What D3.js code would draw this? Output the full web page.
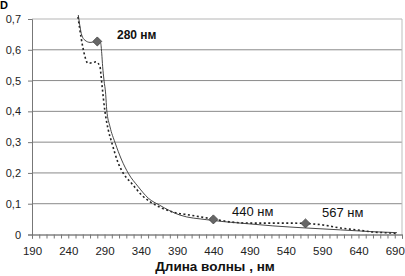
<!DOCTYPE html>
<html>
<head>
<meta charset="utf-8">
<script src="https://cdn.jsdelivr.net/npm/d3@7"></script>
<style>
  body { margin: 0; background: #fff; }
  svg { font-family: "Liberation Sans", Arial, sans-serif; }
</style>
</head>
<body>
<div id="chart"></div>
<script>
const width = 405
const height = 276

// Solid curve (nm, absorbance)
const solidNm  = [253.8, 256.2, 258.5, 263, 270, 276.8, 281.4, 284.7, 286.1, 287.4, 289.2, 291.6, 293, 297.5, 304.4, 313.6, 322.7, 336.5, 350.3, 366, 394, 431, 477, 522, 569, 615, 660, 693]
const solidAbs = [0.713, 0.675, 0.648, 0.631, 0.624, 0.626, 0.628, 0.621, 0.589, 0.545, 0.502, 0.455, 0.405, 0.35, 0.299, 0.242, 0.199, 0.155, 0.118, 0.095, 0.063, 0.048, 0.037, 0.028, 0.021, 0.015, 0.009, 0.006]

// Dotted curve (nm, absorbance)
const dottedNm  = [253.4, 257.5, 259.9, 263.1, 265.4, 267.6, 274.5, 278.2, 283.7, 285.1, 286.5, 290.6, 295.2, 299.9, 309, 315.8, 327.4, 341.2, 353, 366, 384, 408, 440, 463, 490, 522, 546, 566, 591, 615, 638, 660, 683, 693]
const dottedAbs = [0.707, 0.642, 0.61, 0.577, 0.561, 0.556, 0.559, 0.561, 0.545, 0.518, 0.485, 0.399, 0.339, 0.299, 0.231, 0.199, 0.166, 0.128, 0.106, 0.089, 0.073, 0.063, 0.05, 0.041, 0.037, 0.037, 0.037, 0.036, 0.031, 0.021, 0.015, 0.008, 0.005, 0.003]

// Marked peaks
const markerNm  = [280, 440, 567]
const markerAbs = [0.627, 0.049, 0.036]
const markerLabels = ["280 нм", "440 нм", "567 нм"]

const yTicks = [0, 0.1, 0.2, 0.3, 0.4, 0.5, 0.6, 0.7]
const xMinorTicks = d3.range(190, 701, 10)
const xLabelTicks = [190, 240, 290, 340, 390, 440, 490, 540, 590, 640, 690]

const svg = d3.select("#chart")
              .append("svg")
                .attr("width", width)
                .attr("height", height)

const xScale = d3.scaleLinear()
                 .domain([190, 700])
                 .range([32, 402])

const yScale = d3.scaleLinear()
                 .domain([0, 0.7])
                 .range([234.5, 19])

// Gridlines
svg.append("g")
   .selectAll("line")
   .data(yTicks.filter(d => d > 0))
   .join("line")
     .attr("x1", xScale(190))
     .attr("x2", xScale(700))
     .attr("y1", d => yScale(d))
     .attr("y2", d => yScale(d))
     .attr("stroke", d => d === 0.7 ? "#b5b5b5" : "#8a8a8a")
     .attr("stroke-width", 1)

// Right border of plot area
svg.append("line")
   .attr("x1", xScale(700)).attr("x2", xScale(700))
   .attr("y1", yScale(0.7)).attr("y2", yScale(0))
   .attr("stroke", "#bdbdbd")

// Y axis
const yAxis = d3.axisLeft(yScale)
                .tickValues(yTicks)
                .tickSize(4)
                .tickPadding(7)
                .tickFormat(d => d === 0 ? "0" : d.toFixed(1).replace(".", ","))

const gy = svg.append("g")
              .attr("transform", `translate(${xScale(190)}, 0)`)
              .call(yAxis)
gy.select(".domain").attr("stroke", "#777")
gy.selectAll(".tick line").attr("stroke", "#777")
gy.selectAll("text").attr("font-size", 11).attr("fill", "#222")

// X axis: minor ticks
const xAxis = d3.axisBottom(xScale)
                .tickValues(xMinorTicks)
                .tickSize(4)
                .tickFormat("")
const gx = svg.append("g")
              .attr("transform", `translate(0, ${yScale(0)})`)
              .call(xAxis)
gx.select(".domain").attr("stroke", "#444")
gx.selectAll(".tick line").attr("stroke", "#777")

// X axis labels
const xLabelAxis = d3.axisBottom(xScale)
                     .tickValues(xLabelTicks)
                     .tickSize(0)
                     .tickPadding(12)
                     .tickFormat(d3.format("d"))
const gxl = svg.append("g")
               .attr("transform", `translate(0, ${yScale(0)})`)
               .call(xLabelAxis)
gxl.select(".domain").remove()
gxl.selectAll("text").attr("font-size", 11.5).attr("fill", "#222")

// Lines
const line = d3.line()
               .x(d => xScale(d[0]))
               .y(d => yScale(d[1]))
               .curve(d3.curveMonotoneX)

svg.append("path")
   .datum(dottedNm.map((n, i) => [n, dottedAbs[i]]))
   .attr("fill", "none")
   .attr("stroke", "#222")
   .attr("stroke-width", 1.6)
   .attr("stroke-dasharray", "2,2.5")
   .attr("d", line)

svg.append("path")
   .datum(solidNm.map((n, i) => [n, solidAbs[i]]))
   .attr("fill", "none")
   .attr("stroke", "#333")
   .attr("stroke-width", 0.9)
   .attr("d", line)

// Markers
svg.append("g")
   .selectAll("path")
   .data(markerNm.map((n, i) => [n, markerAbs[i]]))
   .join("path")
     .attr("transform", d => `translate(${xScale(d[0])}, ${yScale(d[1])}) rotate(45)`)
     .attr("d", "M-3.2,-3.2H3.2V3.2H-3.2Z")
     .attr("fill", "#666")
     .attr("stroke", "#444")
     .attr("stroke-width", 0.8)

// Marker labels
const labelPos = [[117, 39], [232, 216], [322, 217]]
svg.append("g")
   .selectAll("text")
   .data(markerLabels)
   .join("text")
     .attr("x", (d, i) => labelPos[i][0])
     .attr("y", (d, i) => labelPos[i][1])
     .attr("font-size", (d, i) => i === 0 ? 12 : 13)
     .attr("font-weight", (d, i) => i === 0 ? "bold" : "normal")
     .attr("fill", "#111")
     .text(d => d)

// Axis title
svg.append("text")
   .attr("x", 215)
   .attr("y", 271)
   .attr("text-anchor", "middle")
   .attr("font-size", 13.5)
   .attr("font-weight", "bold")
   .attr("fill", "#111")
   .text("Длина волны , нм")

// Panel letter
svg.append("text")
   .attr("x", 0)
   .attr("y", 9)
   .attr("font-size", 11)
   .attr("font-weight", "bold")
   .text("D")
</script>
</body>
</html>
